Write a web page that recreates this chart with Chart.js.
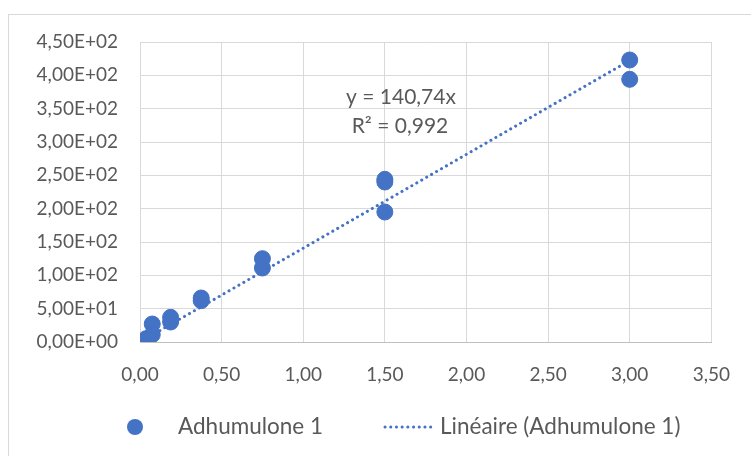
<!DOCTYPE html>
<html>
<head>
<meta charset="utf-8">
<script src="https://cdn.jsdelivr.net/npm/chart.js@4/dist/chart.umd.min.js"></script>
<style>
  html, body { margin: 0; padding: 0; background: #fff; }
  #wrap { width: 751px; height: 456px; position: relative; }
</style>
</head>
<body>
<div id="wrap"><canvas id="chart" width="751" height="456"></canvas></div>
<script>
/* ── Data ─────────────────────────────────────────────── */
const concX   = [0.0375, 0.075, 0.075, 0.1875, 0.1875, 0.375, 0.375, 0.75, 0.75, 1.5, 1.5, 1.5, 3.0, 3.0];
const areaY   = [5, 27, 11, 37, 30, 66, 62, 125, 111, 244, 240, 195, 423, 394];
const trendX  = [0, 3.01];
const slope   = 140.74;
const eqLines = ['y = 140,74x', 'R² = 0,992'];
const seriesName = 'Adhumulone 1';
const trendName  = 'Linéaire (Adhumulone 1)';

const BLUE = '#4472C4';
const TEXT = '#595959';
const FONT = "Lato, 'Open Sans', sans-serif";

Chart.defaults.font.family = FONT;
Chart.defaults.color = TEXT;

const fmtY = v => {
  if (v === 0) return '0,00E+00';
  const [m, e] = v.toExponential(2).split('e');
  const n = Math.abs(parseInt(e, 10));
  return m.replace('.', ',') + 'E' + (e[0] === '-' ? '-' : '+') + String(n).padStart(2, '0');
};
const fmtX = v => v.toFixed(2).replace('.', ',');

/* ── Extras: frame, equation, legend ───────────────────── */
const extras = {
  id: 'extras',
  beforeDraw(chart) {
    const c = chart.ctx;
    c.save();
    c.strokeStyle = '#d9d9d9';
    c.lineWidth = 1;
    c.strokeRect(8.5, 14.5, 800, 500);
    c.restore();
  },
  afterDraw(chart) {
    const c = chart.ctx;
    c.save();
    c.fillStyle = TEXT;
    c.font = '21px ' + FONT;
    c.textAlign = 'center';
    c.textBaseline = 'middle';
    c.fillText(eqLines[0], 401, 97);
    c.fillText(eqLines[1], 400, 126);

    // legend
    const ly = 427;
    c.fillStyle = BLUE;
    c.beginPath();
    c.arc(135, ly, 8, 0, Math.PI * 2);
    c.fill();
    c.font = '22.5px ' + FONT;
    c.fillStyle = TEXT;
    c.textAlign = 'left';
    c.fillText(seriesName, 178, ly);

    c.strokeStyle = BLUE;
    c.lineWidth = 3;
    c.lineCap = 'round';
    c.setLineDash([0.1, 5.6]);
    c.beginPath();
    c.moveTo(385, ly);
    c.lineTo(433, ly);
    c.stroke();
    c.setLineDash([]);
    c.fillText(trendName, 440, ly);
    c.restore();
  }
};

new Chart(document.getElementById('chart'), {
  type: 'scatter',
  data: {
    datasets: [
      {
        label: trendName,
        type: 'line',
        data: trendX.map(x => ({ x, y: slope * x })),
        borderColor: BLUE,
        borderWidth: 3,
        borderCapStyle: 'round',
        borderDash: [0.1, 5.6],
        pointRadius: 0,
        fill: false,
        order: 2,
      },
      {
        label: seriesName,
        data: concX.map((x, i) => ({ x, y: areaY[i] })),
        backgroundColor: BLUE,
        borderColor: BLUE,
        pointRadius: 8,
        pointHoverRadius: 8,
        order: 1,
      },
    ],
  },
  options: {
    responsive: false,
    animation: false,
    layout: { padding: { left: 0, top: 42, right: 34, bottom: 64 } },
    plugins: { legend: { display: false }, tooltip: { enabled: false } },
    scales: {
      x: {
        type: 'linear',
        min: 0, max: 3.5,
        afterFit(s) { s.height = 50; },
        grid: { color: '#d9d9d9', lineWidth: 1, drawTicks: false },
        border: { color: '#bfbfbf', width: 1 },
        ticks: { stepSize: 0.5, padding: 21, color: TEXT, font: { size: 19 }, callback: v => fmtX(v) },
      },
      y: {
        min: 0, max: 450,
        afterFit(s) { s.width = 140; },
        grid: { color: '#d9d9d9', lineWidth: 1, drawTicks: false },
        border: { color: '#d9d9d9', width: 1 },
        ticks: { stepSize: 50, padding: 22, color: TEXT, font: { size: 19 }, callback: v => fmtY(v) },
      },
    },
  },
  plugins: [extras],
});
</script>
</body>
</html>
